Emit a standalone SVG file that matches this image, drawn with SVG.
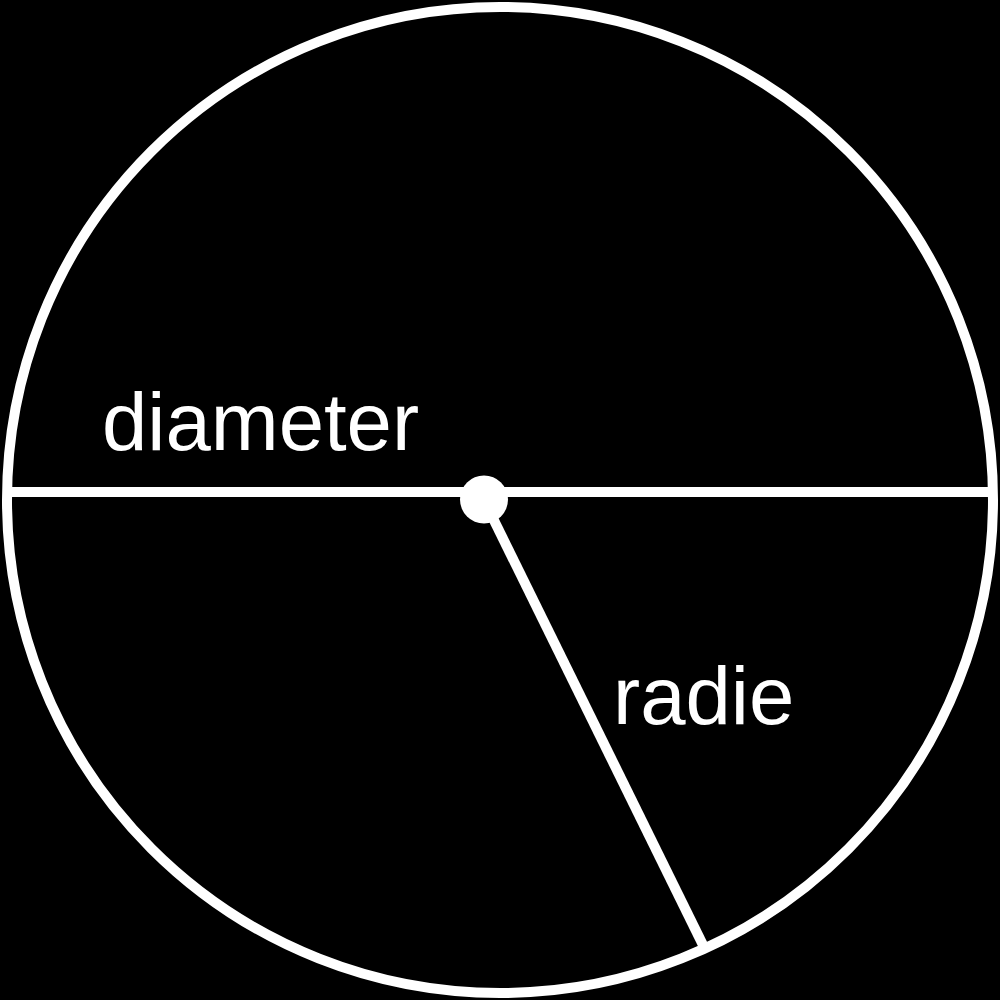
<svg xmlns="http://www.w3.org/2000/svg" width="1000" height="1000" viewBox="0 0 1000 1000">
<style>
.ln{stroke:#fff;stroke-width:10;fill:none}
.lbl{font-family:"Liberation Sans",Arial,sans-serif;font-size:81.5px;fill:#fff}
</style>
<rect width="1000" height="1000" fill="#000"/>
<g id="circle"><circle cx="500" cy="500" r="493" class="ln" stroke-width="11"/></g>
<g id="connectors">
<line x1="11" y1="492" x2="989" y2="492" class="ln"/>
<line x1="484" y1="500" x2="703" y2="945" class="ln"/>
</g>
<g id="center"><circle cx="484" cy="499.5" r="24" fill="#fff"/></g>
<g id="diameter-label"><text x="102" y="450" class="lbl">diameter</text></g>
<g id="radie-label"><text x="613" y="724" class="lbl">radie</text></g>
</svg>
